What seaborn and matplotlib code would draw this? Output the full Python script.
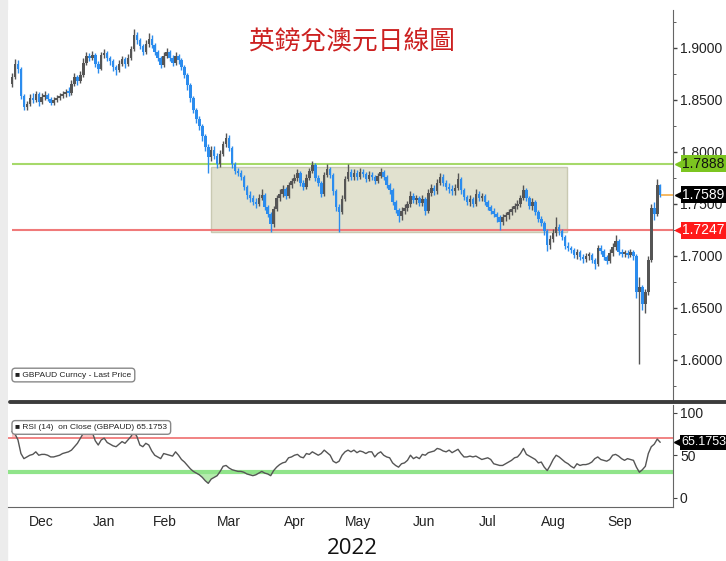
import numpy as np
import pandas as pd
import matplotlib
matplotlib.use('Agg')
import matplotlib.pyplot as plt
from matplotlib import font_manager
from matplotlib.patches import Rectangle
from matplotlib.lines import Line2D
import seaborn as sns

sns.set_style('white')
names = {f.name for f in font_manager.fontManager.ttflist}
narrow = 'Liberation Sans Narrow' if 'Liberation Sans Narrow' in names else 'Liberation Sans'
tick_fs = 12 if narrow == 'Liberation Sans Narrow' else 10
plt.rcParams['font.family'] = [narrow, 'DejaVu Sans']

# GBPAUD daily bars, 3 Dec 2021 - 5 Oct 2022
first_open = 1.8650
close = [
    1.8720, 1.8850, 1.8800, 1.8540, 1.8430, 1.8460, 1.8520, 1.8500, 1.8560, 1.8480, 1.8530, 1.8550, 1.8510, 1.8470, 1.8500, 1.8520, 1.8540, 1.8560, 1.8580, 1.8570, 1.8650,
    1.8720, 1.8680, 1.8740, 1.8860, 1.8920, 1.8900, 1.8930, 1.8850, 1.8800, 1.8930, 1.8950, 1.8900, 1.8870, 1.8820, 1.8790, 1.8850, 1.8890, 1.8850, 1.8900, 1.8990, 1.9120,
    1.9080, 1.9020, 1.8960, 1.9040, 1.9090, 1.9030, 1.8960, 1.8900, 1.8840, 1.8920, 1.8960, 1.8900, 1.8860, 1.8920, 1.8880, 1.8820, 1.8740, 1.8640, 1.8520, 1.8400,
    1.8320, 1.8250, 1.8150, 1.8050, 1.7950, 1.8020, 1.7960, 1.7880, 1.7980, 1.8080, 1.8130, 1.8040, 1.7880, 1.7820, 1.7800, 1.7760, 1.7660, 1.7590, 1.7560, 1.7520, 1.7500, 1.7560, 1.7590,
    1.7470, 1.7400, 1.7310, 1.7450, 1.7560, 1.7600, 1.7640, 1.7580, 1.7680, 1.7720, 1.7750, 1.7800, 1.7700, 1.7660, 1.7750, 1.7820, 1.7870, 1.7750, 1.7700, 1.7600, 1.7780,
    1.7840, 1.7780, 1.7620, 1.7470, 1.7420, 1.7550, 1.7740, 1.7810, 1.7760, 1.7800, 1.7760, 1.7810, 1.7790, 1.7740, 1.7780, 1.7760, 1.7720, 1.7770, 1.7810, 1.7760, 1.7680, 1.7630,
    1.7520, 1.7440, 1.7380, 1.7430, 1.7460, 1.7500, 1.7580, 1.7540, 1.7560, 1.7510, 1.7550, 1.7430, 1.7610, 1.7650, 1.7620, 1.7700, 1.7760, 1.7700, 1.7660, 1.7640, 1.7620, 1.7650,
    1.7740, 1.7630, 1.7570, 1.7520, 1.7550, 1.7500, 1.7600, 1.7560, 1.7580, 1.7520, 1.7470, 1.7430, 1.7400, 1.7370, 1.7330, 1.7370, 1.7390, 1.7420, 1.7450, 1.7480, 1.7500,
    1.7560, 1.7630, 1.7560, 1.7480, 1.7520, 1.7420, 1.7360, 1.7320, 1.7240, 1.7110, 1.7160, 1.7220, 1.7280, 1.7240, 1.7180, 1.7100, 1.7080, 1.7060, 1.7010, 1.7040, 1.6990, 1.6970, 1.7000,
    1.7010, 1.6960, 1.6920, 1.7080, 1.7050, 1.6990, 1.6950, 1.7030, 1.7090, 1.7140, 1.7040, 1.7020, 1.7030, 1.7010, 1.7040, 1.7000, 1.6650, 1.6700, 1.6540, 1.6650, 1.6960, 1.7460,
    1.7400, 1.7680, 1.7589,
]
high = [
    1.8760, 1.8890, 1.8880, 1.8820, 1.8560, 1.8490, 1.8560, 1.8570, 1.8590, 1.8580, 1.8570, 1.8590, 1.8570, 1.8530, 1.8530, 1.8550, 1.8570, 1.8590, 1.8610, 1.8620, 1.8690,
    1.8760, 1.8740, 1.8780, 1.8900, 1.8960, 1.8950, 1.8970, 1.8950, 1.8870, 1.8960, 1.8990, 1.8970, 1.8920, 1.8890, 1.8840, 1.8880, 1.8920, 1.8910, 1.8940, 1.9020, 1.9180,
    1.9150, 1.9100, 1.9040, 1.9080, 1.9140, 1.9120, 1.9050, 1.8980, 1.8920, 1.8960, 1.9000, 1.8980, 1.8930, 1.8960, 1.8940, 1.8900, 1.8840, 1.8760, 1.8660, 1.8540,
    1.8420, 1.8350, 1.8270, 1.8170, 1.8080, 1.8060, 1.8060, 1.7990, 1.8020, 1.8110, 1.8180, 1.8160, 1.8060, 1.7900, 1.7850, 1.7830, 1.7780, 1.7680, 1.7620, 1.7590, 1.7560, 1.7600, 1.7640,
    1.7610, 1.7490, 1.7420, 1.7480, 1.7590, 1.7640, 1.7680, 1.7660, 1.7710, 1.7750, 1.7790, 1.7840, 1.7820, 1.7730, 1.7790, 1.7850, 1.7910, 1.7890, 1.7780, 1.7720, 1.7810,
    1.7880, 1.7860, 1.7800, 1.7640, 1.7500, 1.7590, 1.7770, 1.7880, 1.7840, 1.7840, 1.7830, 1.7850, 1.7840, 1.7810, 1.7820, 1.7810, 1.7780, 1.7800, 1.7850, 1.7830, 1.7780, 1.7700,
    1.7650, 1.7540, 1.7460, 1.7470, 1.7500, 1.7530, 1.7620, 1.7610, 1.7590, 1.7580, 1.7590, 1.7570, 1.7640, 1.7690, 1.7680, 1.7740, 1.7800, 1.7790, 1.7730, 1.7700, 1.7680, 1.7690,
    1.7800, 1.7760, 1.7650, 1.7590, 1.7590, 1.7570, 1.7640, 1.7620, 1.7610, 1.7600, 1.7540, 1.7490, 1.7460, 1.7420, 1.7390, 1.7400, 1.7420, 1.7450, 1.7480, 1.7510, 1.7540,
    1.7590, 1.7680, 1.7650, 1.7580, 1.7560, 1.7540, 1.7440, 1.7380, 1.7340, 1.7260, 1.7200, 1.7260, 1.7370, 1.7310, 1.7260, 1.7200, 1.7130, 1.7100, 1.7080, 1.7070, 1.7060, 1.7020, 1.7030,
    1.7040, 1.7030, 1.6980, 1.7110, 1.7110, 1.7070, 1.7010, 1.7070, 1.7120, 1.7200, 1.7160, 1.7070, 1.7060, 1.7060, 1.7070, 1.7060, 1.7020, 1.6800, 1.6720, 1.6680, 1.7000, 1.7500,
    1.7520, 1.7740, 1.7690,
]
low = [
    1.8620, 1.8700, 1.8760, 1.8510, 1.8400, 1.8400, 1.8440, 1.8470, 1.8480, 1.8440, 1.8460, 1.8500, 1.8490, 1.8450, 1.8450, 1.8480, 1.8500, 1.8520, 1.8530, 1.8540, 1.8550,
    1.8630, 1.8640, 1.8660, 1.8720, 1.8840, 1.8870, 1.8880, 1.8820, 1.8760, 1.8790, 1.8900, 1.8870, 1.8840, 1.8780, 1.8740, 1.8770, 1.8830, 1.8810, 1.8830, 1.8880, 1.8970,
    1.9040, 1.8990, 1.8930, 1.8940, 1.9010, 1.9000, 1.8930, 1.8870, 1.8810, 1.8820, 1.8900, 1.8870, 1.8830, 1.8840, 1.8850, 1.8790, 1.8710, 1.8600, 1.8480, 1.8370,
    1.8280, 1.8210, 1.8110, 1.8010, 1.7800, 1.7910, 1.7930, 1.7850, 1.7860, 1.7960, 1.8050, 1.8010, 1.7850, 1.7790, 1.7770, 1.7730, 1.7630, 1.7550, 1.7520, 1.7490, 1.7460, 1.7480, 1.7540,
    1.7440, 1.7370, 1.7230, 1.7280, 1.7430, 1.7530, 1.7570, 1.7550, 1.7560, 1.7650, 1.7700, 1.7720, 1.7670, 1.7630, 1.7640, 1.7730, 1.7800, 1.7720, 1.7670, 1.7570, 1.7580,
    1.7760, 1.7750, 1.7590, 1.7430, 1.7230, 1.7400, 1.7530, 1.7720, 1.7730, 1.7730, 1.7730, 1.7740, 1.7760, 1.7710, 1.7720, 1.7730, 1.7690, 1.7700, 1.7750, 1.7730, 1.7650, 1.7600,
    1.7490, 1.7410, 1.7330, 1.7350, 1.7400, 1.7430, 1.7470, 1.7510, 1.7500, 1.7480, 1.7480, 1.7390, 1.7410, 1.7580, 1.7590, 1.7600, 1.7680, 1.7670, 1.7630, 1.7610, 1.7590, 1.7590,
    1.7630, 1.7600, 1.7540, 1.7490, 1.7480, 1.7470, 1.7480, 1.7530, 1.7530, 1.7490, 1.7440, 1.7400, 1.7370, 1.7330, 1.7250, 1.7300, 1.7340, 1.7360, 1.7390, 1.7420, 1.7450,
    1.7470, 1.7540, 1.7530, 1.7450, 1.7440, 1.7390, 1.7330, 1.7290, 1.7200, 1.7050, 1.7070, 1.7130, 1.7190, 1.7200, 1.7150, 1.7070, 1.7050, 1.7030, 1.6980, 1.6970, 1.6960, 1.6930, 1.6940,
    1.6960, 1.6930, 1.6870, 1.6900, 1.7020, 1.6960, 1.6920, 1.6930, 1.7000, 1.7060, 1.7010, 1.6990, 1.6990, 1.6980, 1.6990, 1.6960, 1.6600, 1.5960, 1.6480, 1.6450, 1.6620, 1.6940,
    1.7350, 1.7380, 1.7570,
]
rsi = [
    78, 75, 68, 52, 46, 48, 50, 51, 54, 50, 51, 51, 50, 48, 48, 49, 50, 52, 53, 54, 56,
    60, 64, 70, 76, 78, 76, 77, 67, 62, 68, 70, 65, 63, 61, 60, 63, 66, 64, 68, 72, 78,
    72, 62, 60, 64, 62, 55, 50, 48, 46, 52, 51, 50, 49, 54, 50, 45, 42, 38, 34, 31,
    29, 27, 24, 20, 17, 22, 24, 26, 31, 37, 38, 35, 33, 32, 31, 31, 30, 28, 27, 26, 27, 29, 31,
    29, 28, 26, 32, 36, 39, 41, 42, 47, 48, 50, 51, 48, 47, 52, 51, 54, 52, 50, 52, 56,
    53, 50, 43, 41, 43, 50, 54, 56, 54, 56, 53, 55, 54, 52, 54, 54, 48, 52, 54, 50, 48, 47,
    41, 38, 36, 40, 41, 44, 50, 46, 48, 46, 51, 50, 53, 54, 55, 58, 57, 55, 54, 56, 53, 55,
    57, 52, 48, 48, 49, 48, 49, 47, 45, 46, 47, 45, 40, 39, 38, 38, 40, 42, 44, 47, 48,
    52, 58, 51, 49, 47, 45, 41, 42, 36, 32, 38, 45, 50, 48, 45, 42, 40, 37, 35, 40, 38, 39, 39,
    40, 42, 46, 48, 45, 44, 43, 45, 50, 51, 49, 46, 44, 46, 45, 44, 36, 30, 33, 37, 52, 60,
    63, 69, 65.1753,
]
resistance = 1.7888
support = 1.7247
range_box = (67, 186.5, 1.7231, 1.7856)   # start bar, end bar, low, high
rsi_high, rsi_low = 70, 30

n = len(close)
dates = pd.bdate_range('2021-12-03', periods=n)
idx = np.arange(n)
c = np.array(close)
o = np.array([first_open] + close[:-1])
up = c >= o
colors = np.where(up, '#555555', '#2b8cee')

fig = plt.figure(figsize=(7.26, 5.61), dpi=100)
ax = fig.add_axes([8 / 726, 1 - 400 / 561, 665 / 726, 390 / 561])
ax2 = fig.add_axes([8 / 726, 1 - 507 / 561, 665 / 726, 102 / 561])
xlim = (-1.35, 222.3)

# price panel
ax.add_patch(Rectangle((range_box[0], range_box[2]), range_box[1] - range_box[0],
                       range_box[3] - range_box[2], facecolor='#e1e1cf',
                       edgecolor='#c9c9b2', lw=1, zorder=1))
ax.hlines(resistance, 0, xlim[1], color='#a6d96a', lw=1.5, zorder=1.5)
ax.hlines(support, 0, xlim[1], color='#f07a7a', lw=1.5, zorder=1.5)
ax.vlines(idx, low, high, colors=colors, lw=1.0, zorder=2)
ax.bar(idx, np.maximum(np.abs(c - o), 0.002), bottom=np.minimum(o, c), width=0.85,
       color=colors, lw=0, zorder=2)
ax.hlines(c[-1], n - 0.6, xlim[1], color='#f5b356', lw=1.3, zorder=2)

ax.set_xlim(xlim)
ax.set_ylim(1.5615, 1.9365)
ax.yaxis.tick_right()
ax.set_yticks([1.60, 1.65, 1.70, 1.75, 1.80, 1.85, 1.90])
ax.set_yticks(np.arange(1.575, 1.94, 0.05), minor=True)
ax.yaxis.set_major_formatter(matplotlib.ticker.FormatStrFormatter('%.4f'))
ax.tick_params(axis='y', which='major', length=3, width=1, color='#444',
               labelsize=tick_fs, labelcolor='#222', pad=2)
ax.tick_params(axis='y', which='minor', length=2, color='#444')
ax.set_xticks([])
for s in ['top', 'left', 'bottom']:
    ax.spines[s].set_visible(False)
ax.spines['right'].set_color('#666')

tr = ax.get_yaxis_transform()
for val, fc, tc in [(resistance, '#7cc520', '#111111'), (c[-1], '#000000', 'white'),
                    (support, '#ff1a1a', 'white')]:
    ax.text(1.014, val, f'{val:.4f}', transform=tr, ha='left', va='center',
            fontsize=tick_fs, color=tc, zorder=10, clip_on=False,
            bbox=dict(boxstyle='square,pad=0.12', fc=fc, ec='none'))
    ax.plot([1.007], [val], marker='<', ms=5, color=fc, transform=tr,
            clip_on=False, zorder=10)

ax.text(0.011, 0.064, '■ GBPAUD Curncy - Last Price', transform=ax.transAxes,
        fontsize=6, va='center', ha='left', color='#222',
        bbox=dict(boxstyle='round,pad=0.4', fc='white', ec='#888', lw=1))

# RSI panel
df = pd.DataFrame({'i': idx, 'rsi': rsi})
r = np.array(rsi, dtype=float)
ax2.fill_between(idx, r, rsi_low, where=r < rsi_low, color='#b5ecae', interpolate=True, lw=0)
ax2.fill_between(idx, r, rsi_high, where=r > rsi_high, color='#f8c8c8', interpolate=True, lw=0)
ax2.axhline(rsi_high, color='#f07a7a', lw=1.3)
ax2.axhline(rsi_low, color='#90e48a', lw=3)
sns.lineplot(data=df, x='i', y='rsi', ax=ax2, color='#555555', lw=1)
ax2.set_xlim(xlim)
ax2.set_ylim(-10.8, 109)
ax2.set_xlabel('')
ax2.set_ylabel('')
ax2.yaxis.tick_right()
ax2.set_yticks([0, 50, 100])
ax2.tick_params(axis='y', length=3, color='#444', labelsize=tick_fs, labelcolor='#222', pad=2)
for s in ['top', 'left']:
    ax2.spines[s].set_visible(False)
ax2.spines['right'].set_color('#666')
ax2.spines['bottom'].set_color('#666')

bounds = [i - 0.5 for i in range(1, n) if dates[i].month != dates[i - 1].month]
groups = pd.Series(idx).groupby([dates.year, dates.month])
centers = groups.mean().values[:-1]
labels = [dates[g.iloc[0]].strftime('%b') for _, g in groups][:-1]
ax2.set_xticks(bounds)
ax2.set_xticklabels([])
ax2.set_xticks(centers, minor=True)
ax2.set_xticklabels(labels, minor=True)
ax2.tick_params(axis='x', which='major', length=5, color='#666', direction='out')
ax2.tick_params(axis='x', which='minor', length=0, labelsize=tick_fs, labelcolor='#222', pad=6)

tr2 = ax2.get_yaxis_transform()
ax2.text(1.012, r[-1], f'{r[-1]:.4f}', transform=tr2, ha='left', va='center',
         fontsize=tick_fs - 1, color='white', zorder=10, clip_on=False,
         bbox=dict(boxstyle='square,pad=0.1', fc='black', ec='none'))
ax2.plot([1.006], [r[-1]], marker='<', ms=5, color='black', transform=tr2,
         clip_on=False, zorder=10)
ax2.text(0.011, 0.78, f'■ RSI (14)  on Close (GBPAUD) {r[-1]:.4f}', transform=ax2.transAxes,
         fontsize=6, va='center', ha='left', color='#222', zorder=10,
         bbox=dict(boxstyle='round,pad=0.4', fc='white', ec='#888', lw=1))

# frame pieces, title, year
fig.add_artist(Rectangle((0, 0), 7 / 726, 1, transform=fig.transFigure,
                         color='#ececec', zorder=0))
fig.add_artist(Line2D([10 / 726, 1], [1 - 402 / 561] * 2, color='#3c3c3c', lw=2.8))
fig.text(352 / 726, 1 - 42 / 561, '英鎊兌澳元日線圖', color='#cc2020', fontsize=18.5,
         ha='center', va='center', family=['Noto Sans CJK TC', 'DejaVu Sans'])
fig.text(352 / 726, 1 - 549 / 561, '2022', color='#111', fontsize=16,
         ha='center', va='center', family=['Open Sans', 'DejaVu Sans'])

fig.savefig('out.png', dpi=100)
